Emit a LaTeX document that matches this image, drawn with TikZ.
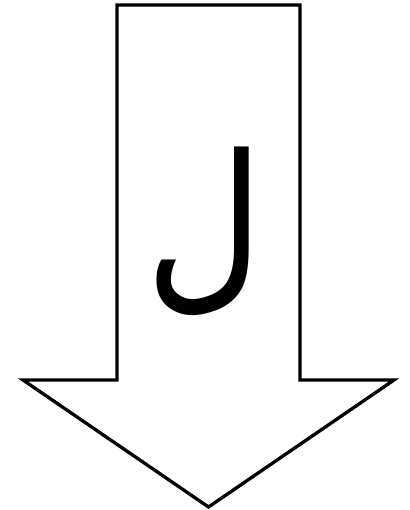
\documentclass[tikz,border=0pt]{standalone}
\usepackage{fontspec}
\TeXXeTstate=1
\newfontfamily\arabicfont[Script=Arabic]{DejaVu Sans}
\begin{document}
\begin{tikzpicture}[x=1pt,y=1pt,
  arrowshape/.style={draw=black,fill=white,line width=3.3pt,line join=miter},
  letter/.style={font=\arabicfont\fontsize{185}{200}\selectfont,inner sep=0pt,xscale=0.88}]
\useasboundingbox (0,0) rectangle (409,510);
\draw[arrowshape] (117,505) -- (300,505) -- (300,130) -- (394,130) -- (208.5,3) -- (23,130) -- (117,130) -- cycle;
\node[letter] (lam) at (205,279) {\beginR ل\endR};
\end{tikzpicture}
\end{document}
